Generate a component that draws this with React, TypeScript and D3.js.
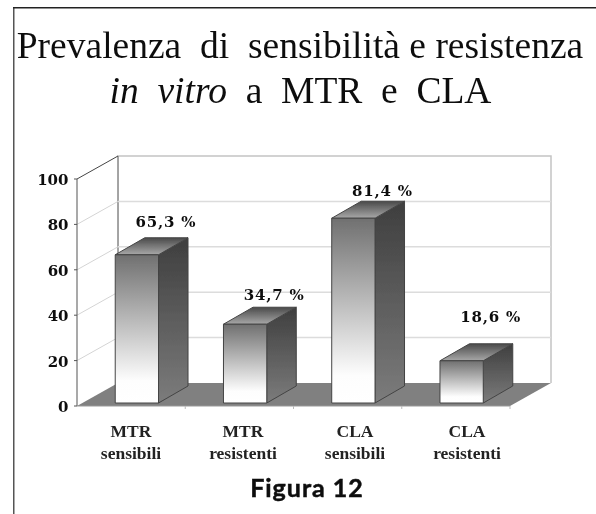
import React from 'react';
import * as d3 from 'd3';

const categories = ['MTR sensibili', 'MTR resistenti', 'CLA sensibili', 'CLA resistenti'];
const values = [65.3, 34.7, 81.4, 18.6];
const valueLabels = ['65,3 %', '34,7 %', '81,4 %', '18,6 %'];
const yTicks = [0, 20, 40, 60, 80, 100];
// how far each value label floats above its bar
const labelLift = [31, 27, 25, 42];

const W = 596;
const H = 514;
// front plane of the 3d box
const x0 = 77;
const x1 = 510;
const y0 = 406;
const y1 = 179;
const depthX = 41;
const depthY = 23;
const barDepthX = 29.5;
const barDepthY = 17;

const serif = '"Liberation Serif", "Times New Roman", serif';
const wideSerif = '"DejaVu Serif", serif';

const xScale = d3.scaleBand<string>().domain(categories).range([x0, x1]).paddingInner(0.6).paddingOuter(0.3);
const xBand = d3.scaleBand<string>().domain(categories).range([x0, x1]);
const labelScale = d3.scalePoint<string>().domain(categories).range([131, 467]);
const yScale = d3.scaleLinear().domain([0, 100]).range([y0, y1]);

const poly = (pts: [number, number][]) => d3.line()(pts) + 'Z';

export default function App() {
  const bw = xScale.bandwidth();
  const off = (depthX - barDepthX) / 2;
  const offY = (depthY - barDepthY) / 2;
  return (
    <svg width={W} height={H} style={{ position: 'absolute', left: 0, top: 0, background: '#fff' }}>
      <defs>
        <linearGradient id="front" x1="0" y1="0" x2="0" y2="1">
          <stop offset="0" stopColor="#707070" />
          <stop offset="0.85" stopColor="#fdfdfd" />
          <stop offset="1" stopColor="#ffffff" />
        </linearGradient>
        <linearGradient id="side" x1="0" y1="0" x2="0" y2="1">
          <stop offset="0" stopColor="#3e3e3e" />
          <stop offset="1" stopColor="#7c7c7c" />
        </linearGradient>
        <linearGradient id="top" x1="0" y1="0" x2="0" y2="1">
          <stop offset="0" stopColor="#4a4a4a" />
          <stop offset="1" stopColor="#a8a8a8" />
        </linearGradient>
        <filter id="soft" x="0" y="0" width="100%" height="100%">
          <feGaussianBlur stdDeviation="0.55" />
        </filter>
      </defs>

      <g filter="url(#soft)">
        {/* outer frame */}
        <line x1={13.5} x2={13.5} y1={7} y2={H + 2} stroke="#555" strokeWidth={2} />
        <line x1={13} x2={W + 2} y1={7.5} y2={7.5} stroke="#222" strokeWidth={2} />

        {/* floor */}
        <path d={poly([[x0, y0], [x0 + depthX, y0 - depthY], [x1 + depthX, y0 - depthY], [x1, y0]])} fill="#808080" />

        {/* walls */}
        <path d={`M${x0 + depthX},${y0 - depthY}V${y1 - depthY}H${x1 + depthX}V${y0 - depthY}`} fill="none" stroke="#c4c4c4" strokeWidth={1.5} />
        <path d={`M${x0 + depthX},${y0 - depthY}V${y1 - depthY}`} fill="none" stroke="#777" strokeWidth={1} />
        {yTicks.slice(1, -1).map(t => (
          <g key={t}>
            <line x1={x0 + depthX} x2={x1 + depthX} y1={yScale(t) - depthY} y2={yScale(t) - depthY} stroke="#dcdcdc" strokeWidth={1.5} />
            <line x1={x0} x2={x0 + depthX} y1={yScale(t)} y2={yScale(t) - depthY} stroke="#d4d4d4" strokeWidth={1} />
          </g>
        ))}
        <line x1={x0} x2={x0 + depthX} y1={y1} y2={y1 - depthY} stroke="#444" strokeWidth={1} />

        {/* axes */}
        <line x1={x0} x2={x0} y1={y0} y2={y1} stroke="#555" strokeWidth={1} />
        <line x1={x0} x2={x1} y1={y0} y2={y0} stroke="#999" strokeWidth={1} />
        {yTicks.map(t => (
          <g key={t}>
            <line x1={x0 - 3} x2={x0} y1={yScale(t)} y2={yScale(t)} stroke="#555" />
            <text x={x0 - 8.5} y={yScale(t) + 6} textAnchor="end" fontFamily={wideSerif} fontWeight="bold" fontSize={15} fill="#111">{t}</text>
          </g>
        ))}
        {categories.map(c => (
          <line key={c} x1={xBand(c)! + xBand.bandwidth()} x2={xBand(c)! + xBand.bandwidth()} y1={y0} y2={y0 + 3} stroke="#bbb" />
        ))}

        {/* bars */}
        {categories.map((c, i) => {
          const l = xScale(c)! + off;
          const r = l + bw;
          const b = y0 - offY;
          const t = yScale(values[i]) - offY;
          return (
            <g key={c} stroke="#444" strokeWidth={1} strokeLinejoin="round">
              <path d={poly([[r, b], [r + barDepthX, b - barDepthY], [r + barDepthX, t - barDepthY], [r, t]])} fill="url(#side)" />
              <path d={poly([[l, t], [l + barDepthX, t - barDepthY], [r + barDepthX, t - barDepthY], [r, t]])} fill="url(#top)" />
              <rect x={l} y={t} width={bw} height={b - t} fill="url(#front)" />
            </g>
          );
        })}

        {/* value labels */}
        {categories.map((c, i) => (
          <text key={c} x={xScale(c)! + off + bw / 2 + 29} y={yScale(values[i]) - labelLift[i]} textAnchor="middle" fontFamily={wideSerif} fontWeight="bold" fontSize={15} letterSpacing={0.8} fill="#111">{valueLabels[i].replace(' ', '\u00a0')}</text>
        ))}

        {/* category labels */}
        {categories.map(c => {
          const cx = labelScale(c)!;
          const [a, b] = c.split(' ');
          return (
            <text key={c} textAnchor="middle" fontFamily={serif} fontWeight="bold" fontSize={17.5} fill="#222">
              <tspan x={cx} y={437}>{a}</tspan>
              <tspan x={cx} y={459}>{b}</tspan>
            </text>
          );
        })}

        {/* title */}
        <text x={300} y={58} textAnchor="middle" fontFamily={serif} fontSize={37.5} fill="#111">{'Prevalenza\u00a0 di\u00a0 sensibilità e resistenza'}</text>
        <text x={300.5} y={103} textAnchor="middle" fontFamily={serif} fontSize={37.5} fill="#111">
          <tspan fontStyle="italic">{'in\u00a0 vitro'}</tspan>{'\u00a0 a\u00a0 MTR\u00a0 e\u00a0 CLA'}
        </text>

        <text x={307} y={497} textAnchor="middle" fontFamily='Lato, "Noto Sans", sans-serif' fontWeight="bold" fontSize={25} letterSpacing={1} fill="#111" stroke="#111" strokeWidth={0.5}>Figura 12</text>
      </g>
    </svg>
  );
}
